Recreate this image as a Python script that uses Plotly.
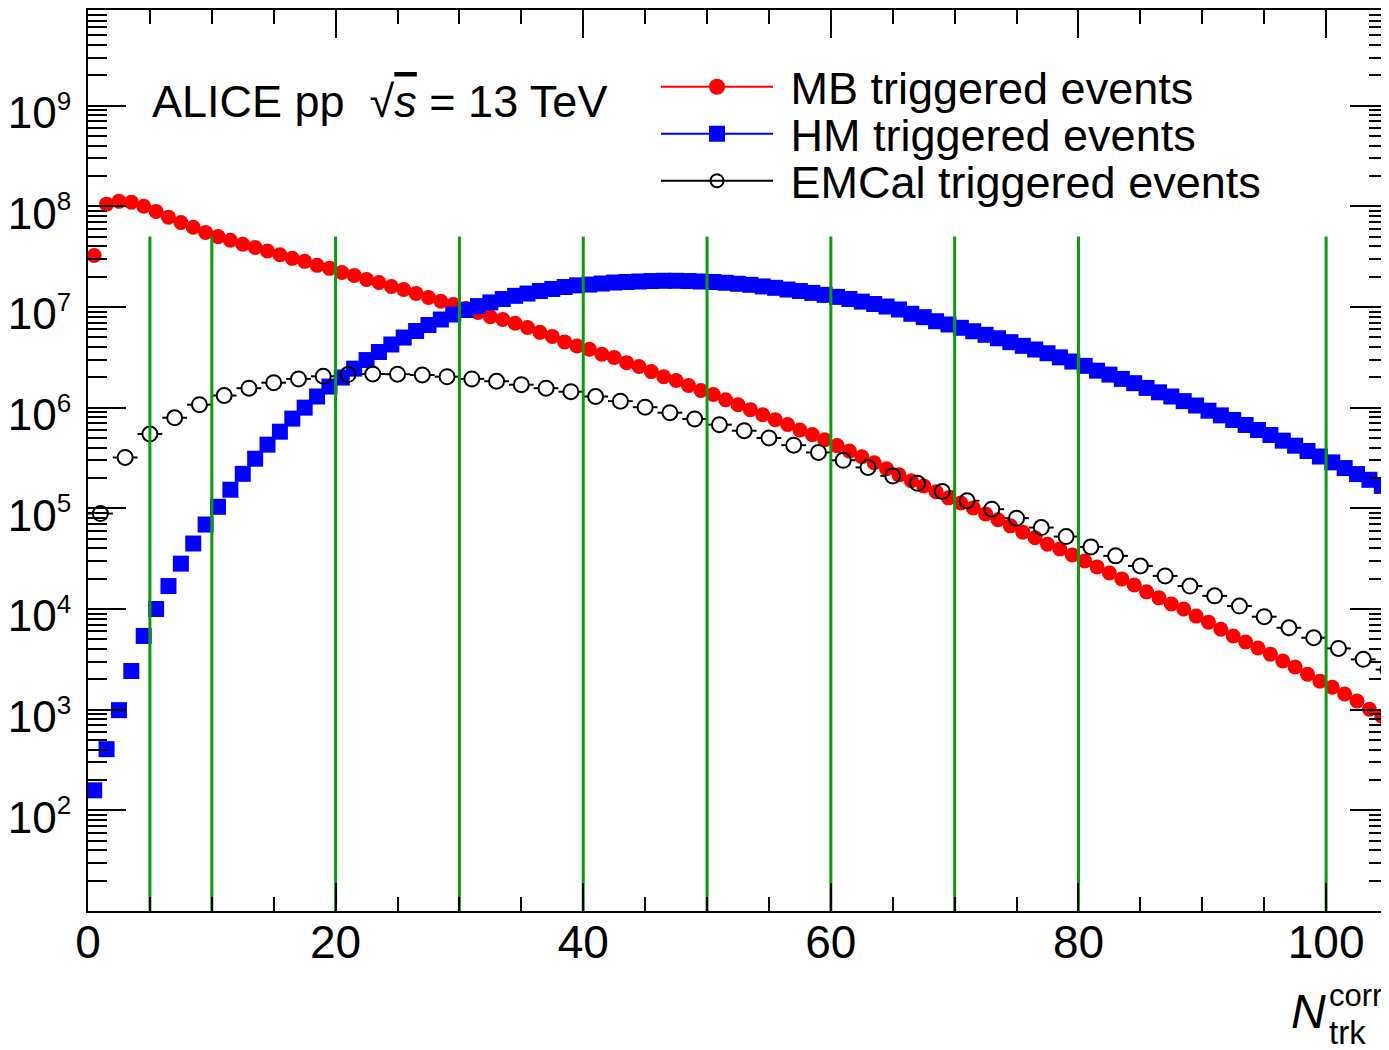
import plotly.graph_objects as go

# ---------------- data ----------------
# MB triggered events: one value per unit-width bin, bins 0..105
mb_y = [3.25e7, 1.05e8, 1.12e8, 1.10e8, 1.00e8, 8.9e7, 7.8e7, 6.9e7, 6.2e7, 5.5e7,
        5.0e7, 4.6e7, 4.2e7, 3.9e7, 3.6e7, 3.3e7, 3.04e7, 2.84e7, 2.59e7, 2.42e7,
        2.2e7, 2.06e7, 1.88e7, 1.75e7, 1.6e7, 1.49e7, 1.36e7, 1.24e7, 1.14e7, 1.06e7,
        9.7e6, 8.8e6, 8.0e6, 7.5e6, 6.9e6, 6.25e6, 5.6e6, 5.1e6, 4.5e6, 4.1e6,
        3.8e6, 3.4e6, 3.15e6, 2.8e6, 2.56e6, 2.28e6, 2.03e6, 1.86e6, 1.66e6, 1.48e6,
        1.35e6, 1.2e6, 1.07e6, 9.55e5, 8.5e5, 7.6e5, 6.8e5, 6.0e5, 5.4e5, 4.8e5,
        4.2e5, 3.7e5, 3.25e5, 2.84e5, 2.47e5, 2.15e5, 1.88e5, 1.67e5, 1.46e5, 1.27e5,
        1.13e5, 1.01e5, 8.8e4, 7.7e4, 6.7e4, 5.8e4, 5.1e4, 4.4e4, 3.95e4, 3.44e4,
        3.0e4, 2.62e4, 2.28e4, 1.99e4, 1.73e4, 1.48e4, 1.29e4, 1.12e4, 1.0e4, 8.5e3,
        7.4e3, 6.3e3, 5.4e3, 4.7e3, 4.1e3, 3.56e3, 3.04e3, 2.65e3, 2.25e3, 1.92e3,
        1.67e3, 1.43e3, 1.22e3, 1.01e3, 8.6e2]

# HM triggered events: one value per unit-width bin
hm_y = [158, 405, 989, 2.42e3, 5.4e3, 1.0e4, 1.69e4, 2.82e4, 4.47e4, 6.9e4,
        1.035e5, 1.53e5, 2.2e5, 3.11e5, 4.29e5, 5.77e5, 7.78e5, 1.0e6, 1.29e6, 1.62e6,
        1.99e6, 2.44e6, 2.97e6, 3.57e6, 4.24e6, 4.97e6, 5.77e6, 6.62e6, 7.51e6, 8.42e6,
        9.33e6, 1.02e7, 1.11e7, 1.20e7, 1.29e7, 1.36e7, 1.44e7, 1.51e7, 1.58e7, 1.64e7,
        1.67e7, 1.71e7, 1.75e7, 1.77e7, 1.79e7, 1.81e7, 1.82e7, 1.82e7, 1.81e7, 1.79e7,
        1.77e7, 1.74e7, 1.70e7, 1.66e7, 1.60e7, 1.55e7, 1.49e7, 1.44e7, 1.38e7, 1.32e7,
        1.26e7, 1.20e7, 1.13e7, 1.07e7, 1.01e7, 9.44e6, 8.56e6, 7.92e6, 7.22e6, 6.70e6,
        6.21e6, 5.74e6, 5.29e6, 4.89e6, 4.47e6, 4.11e6, 3.78e6, 3.47e6, 3.16e6, 2.87e6,
        2.60e6, 2.33e6, 2.13e6, 1.93e6, 1.75e6, 1.57e6, 1.42e6, 1.29e6, 1.16e6, 1.05e6,
        9.33e5, 8.38e5, 7.55e5, 6.73e5, 6.0e5, 5.35e5, 4.70e5, 4.19e5, 3.71e5, 3.27e5,
        2.86e5, 2.51e5, 2.19e5, 1.92e5, 1.67e5]

# EMCal triggered events: width-2 bins
emc_y = [8.87e4, 3.2e5, 5.47e5, 7.94e5, 1.07e6, 1.32e6, 1.56e6, 1.77e6, 1.93e6, 2.05e6,
         2.13e6, 2.16e6, 2.15e6, 2.11e6, 2.03e6, 1.93e6, 1.83e6, 1.69e6, 1.56e6, 1.44e6,
         1.29e6, 1.16e6, 1.01e6, 8.91e5, 7.72e5, 6.78e5, 5.90e5, 5.0e5, 4.24e5, 3.59e5,
         3.0e5, 2.55e5, 2.10e5, 1.77e5, 1.47e5, 1.19e5, 9.8e4, 7.98e4, 6.44e4, 5.24e4,
         4.14e4, 3.37e4, 2.68e4, 2.13e4, 1.69e4, 1.35e4, 1.07e4, 8.38e3, 6.51e3, 5.18e3,
         4.06e3, 3.16e3, 2.5e3]

mb_bin_width = 1
emc_bin_width = 2
mb_x = [mb_bin_width * (i + 0.5) for i in range(len(mb_y))]
hm_x = [mb_bin_width * (i + 0.5) for i in range(len(hm_y))]
emc_x = [emc_bin_width * (i + 0.5) for i in range(len(emc_y))]
emc_xerr = [emc_bin_width / 2] * len(emc_y)

# multiplicity class boundaries (green lines)
class_edges = [5, 10, 20, 30, 40, 50, 60, 70, 80, 100]
class_line_ymin = 10
class_line_ymax = 5e7

x_range = [0, 105]
y_log_range = [1, 9.95]
x_tick_vals = [0, 20, 40, 60, 80, 100]
y_tick_exps = [2, 3, 4, 5, 6, 7, 8, 9]

# ---------------- figure ----------------
FONT = "Liberation Sans, Arial, Helvetica, sans-serif"
RED = "#ff0000"
BLUE = "#0000ff"
GREEN = "#109910"

# page has an 8px body margin: figure is sized/placed to compensate
FIG_W, FIG_H = 1381, 1042
M_L, M_R, M_T, M_B = 80, 1, 2, 139
PLOT_L, PLOT_B = 88, 911       # plot-area origin in page pixels
PLOT_W, PLOT_H = 1300, 901


def px(xp):
    return (xp - PLOT_L) / PLOT_W


def py(yp):
    return (PLOT_B - yp) / PLOT_H


fig = go.Figure()

# EMCal horizontal bin-width bars, masked in the middle by a white disc
fig.add_trace(go.Scatter(
    x=emc_x, y=emc_y, mode="markers",
    error_x=dict(type="data", array=emc_xerr, symmetric=True, color="black",
                 thickness=2, width=0),
    marker=dict(symbol="circle", size=15, color="white", line=dict(width=0)),
    showlegend=False, hoverinfo="skip"))

fig.add_trace(go.Scatter(
    x=mb_x, y=mb_y, mode="markers", name="MB triggered events",
    marker=dict(symbol="circle", size=15, color=RED, line=dict(width=0)),
    showlegend=False))

fig.add_trace(go.Scatter(
    x=hm_x, y=hm_y, mode="markers", name="HM triggered events",
    marker=dict(symbol="square", size=16, color=BLUE, line=dict(width=0)),
    showlegend=False))

fig.add_trace(go.Scatter(
    x=emc_x, y=emc_y, mode="markers", name="EMCal triggered events",
    marker=dict(symbol="circle-open", size=15, color="black", line=dict(width=2)),
    showlegend=False))

# class boundary lines
gx, gy = [], []
for e in class_edges:
    gx += [e, e, None]
    gy += [class_line_ymin, class_line_ymax, None]
fig.add_trace(go.Scatter(x=gx, y=gy, mode="lines",
                         line=dict(color=GREEN, width=3),
                         showlegend=False, hoverinfo="skip"))

# legend entries (ROOT style: line through marker)
NB = "\u00a0"
leg_font = dict(family=FONT, size=45, color="black")
fig.add_trace(go.Scatter(x=[None], y=[None], mode="lines+markers",
                         name=NB + "MB triggered events", legend="legend",
                         line=dict(color=RED, width=2),
                         marker=dict(symbol="circle", size=23, color=RED)))
fig.add_trace(go.Scatter(x=[None], y=[None], mode="lines+markers",
                         name=NB + "HM triggered events", legend="legend2",
                         line=dict(color=BLUE, width=2),
                         marker=dict(symbol="square", size=22, color=BLUE)))
fig.add_trace(go.Scatter(x=[None], y=[None], mode="lines+markers",
                         name=NB + "EMCal triggered events", legend="legend3",
                         line=dict(color="black", width=2),
                         marker=dict(symbol="circle-open", size=13, color="black",
                                     line=dict(width=2))))


def leg(yp):
    return dict(x=px(656), y=py(yp), xanchor="left", yanchor="middle",
                font=leg_font, bgcolor="rgba(0,0,0,0)", borderwidth=0,
                itemwidth=112, itemsizing="trace")


y_tick_vals = [10 ** p for p in y_tick_exps]
y_tick_text = ["10<sup><span style='font-size:26px'>%d</span></sup>" % p for p in y_tick_exps]
y_minor_vals = [k * 10 ** p for p in range(1, 10) for k in range(2, 10)]

fig.update_layout(
    width=FIG_W, height=FIG_H,
    margin=dict(l=M_L, r=M_R, t=M_T, b=M_B, autoexpand=False),
    paper_bgcolor="white", plot_bgcolor="white",
    font=dict(family=FONT, size=44, color="black"),
    legend=leg(87), legend2=leg(134), legend3=leg(181),
    xaxis=dict(range=x_range, showgrid=False, zeroline=False,
               showline=True, linecolor="black", linewidth=2, mirror="allticks",
               ticks="inside", ticklen=28, tickwidth=2, tickcolor="black",
               tickvals=x_tick_vals, tickfont=dict(family=FONT, size=46),
               ticklabelstandoff=-10,
               minor=dict(ticks="inside", ticklen=14, tickwidth=2, tickcolor="black",
                          dtick=5, tick0=0, showgrid=False)),
    yaxis=dict(type="log", range=y_log_range, showgrid=False, zeroline=False,
               showline=True, linecolor="black", linewidth=2, mirror="allticks",
               ticks="inside", ticklen=38, tickwidth=2, tickcolor="black",
               tickvals=y_tick_vals, ticktext=y_tick_text,
               tickfont=dict(family=FONT, size=44), ticklabelstandoff=6,
               ticklabelshift=7,
               minor=dict(ticks="inside", ticklen=19, tickwidth=2, tickcolor="black",
                          tickvals=y_minor_vals, showgrid=False)),
)

fig.add_annotation(xref="paper", yref="paper", x=px(150), y=py(102),
                   xanchor="left", yanchor="middle", showarrow=False,
                   text="ALICE pp  \u221a<span style='text-decoration:overline'><i>s</i></span> = 13 TeV",
                   font=dict(family=FONT, size=45, color="black"))

# x-axis title N_trk^corr (stacked super/subscript)
fig.add_annotation(xref="paper", yref="paper", x=px(1328), y=py(1011),
                   xanchor="right", yanchor="middle", showarrow=False,
                   text="<i>N</i>", font=dict(family=FONT, size=48, color="black"))
fig.add_annotation(xref="paper", yref="paper", x=px(1327), y=py(995),
                   xanchor="left", yanchor="middle", showarrow=False,
                   text="corr", font=dict(family=FONT, size=31, color="black"))
fig.add_annotation(xref="paper", yref="paper", x=px(1327), y=py(1032),
                   xanchor="left", yanchor="middle", showarrow=False,
                   text="trk", font=dict(family=FONT, size=33, color="black"))

fig.write_html("out.html")
